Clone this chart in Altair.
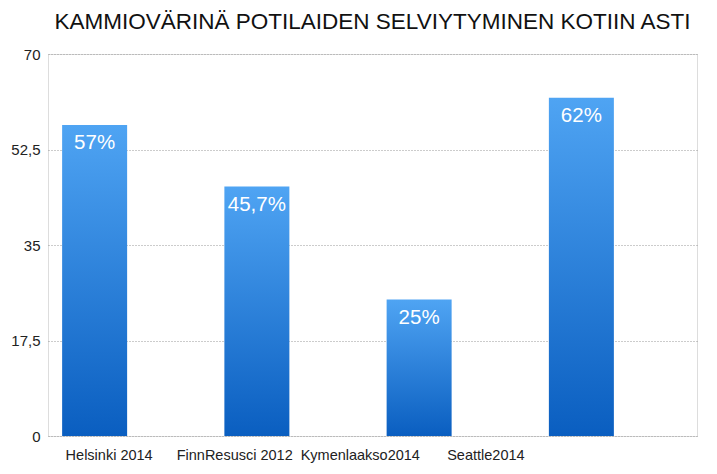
import altair as alt
import pandas as pd

categories = ["Helsinki 2014", "FinnResusci 2012", "Kymenlaakso2014", "Seattle2014"]
values = [57, 45.7, 25, 62]
value_labels = ["57%", "45,7%", "25%", "62%"]
y_ticks = [0, 17.5, 35, 52.5, 70]

df = pd.DataFrame({"cat": categories, "val": values, "lab": value_labels})

x = alt.X("cat:N", sort=categories, title=None,
          scale=alt.Scale(paddingInner=0, paddingOuter=0),
          axis=alt.Axis(labelAngle=0, domain=False, ticks=False, labelFontSize=14.5,
                        labelColor="#222", labelFont="Liberation Sans", labelPadding=12,
                        labelOffset=alt.ExprRef("-20 - 110*datum.index")))
y = alt.Y("val:Q", title=None,
          scale=alt.Scale(domain=[0, 70], nice=False),
          axis=alt.Axis(values=y_ticks, domain=False, ticks=False, labelFontSize=15,
                        labelColor="#222", labelFont="Liberation Sans", labelPadding=8,
                        labelExpr="replace(format(datum.value, '~g'), '.', ',')",
                        grid=True, gridDash=[1, 2], gridColor="#999", gridWidth=1))

grad = alt.Gradient(gradient="linear",
                    stops=[alt.GradientStop(color="#4FA4F3", offset=0),
                           alt.GradientStop(color="#0A5EC0", offset=1)],
                    x1=0, x2=0, y1=0, y2=1)

bars = alt.Chart(df).mark_bar(width=65, xOffset=-34.5, color=grad).encode(x=x, y=y)
texts = alt.Chart(df).mark_text(xOffset=-34.5, dy=24, baseline="alphabetic", color="white",
                                fontSize=20.5, font="Liberation Sans").encode(
    x=alt.X("cat:N", sort=categories), y=alt.Y("val:Q"), text="lab:N")

chart = (bars + texts).properties(
    width=649, height=382,
    title=alt.TitleParams("KAMMIOVÄRINÄ POTILAIDEN SELVIYTYMINEN KOTIIN ASTI",
                          fontSize=22.5, font="Liberation Sans", fontWeight="normal",
                          color="#111", anchor="middle", offset=14),
    autosize=alt.AutoSizeParams(type="none"),
    padding={"left": 40, "top": 46, "right": 10, "bottom": 30},
).configure_view(stroke="#222", strokeWidth=1.5).configure(background="white")

chart.save("out.html", embed_options={"renderer": "svg", "actions": False})
